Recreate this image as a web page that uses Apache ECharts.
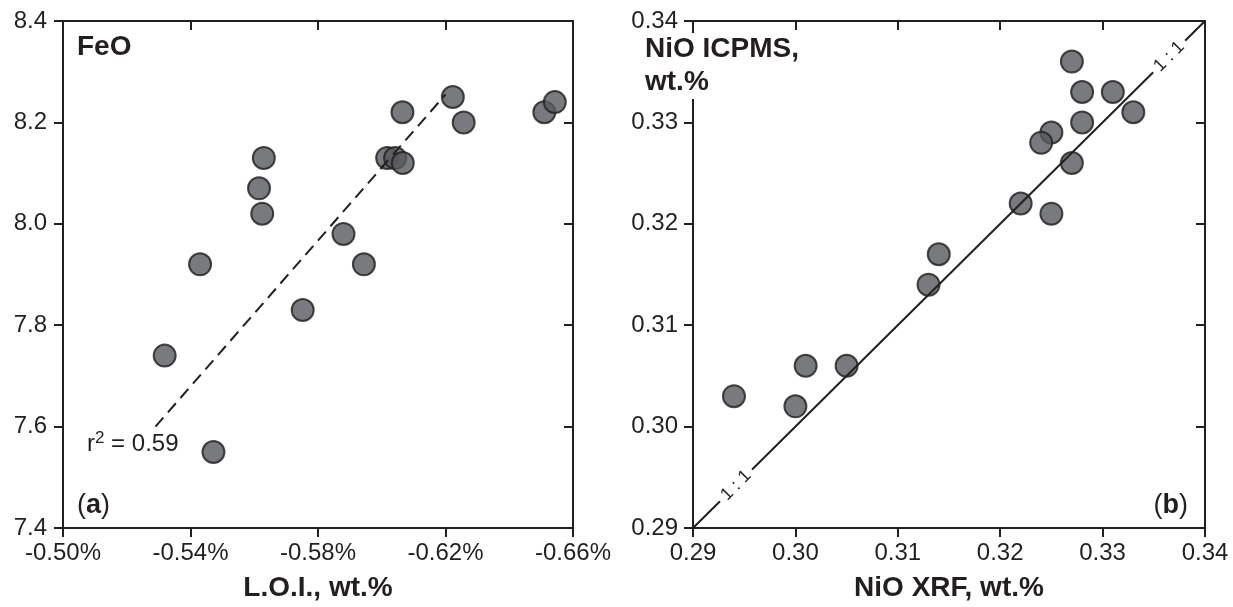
<!DOCTYPE html>
<html><head><meta charset="utf-8">
<script src="https://cdn.jsdelivr.net/npm/echarts@6/dist/echarts.min.js"></script>
<style>html,body{margin:0;padding:0;background:#fff}#c{width:1233px;height:607px}</style>
</head><body><div id="c"></div>
<script>
// ---- Panel (a): FeO vs L.O.I. ----
const loiValues = [-0.563, -0.5615, -0.5625, -0.543, -0.6223, -0.6065, -0.6257, -0.651, -0.6543, -0.6017, -0.6042, -0.6066, -0.588, -0.5944, -0.5752, -0.5319, -0.5472];
const feoValues = [8.13, 8.07, 8.02, 7.92, 8.25, 8.22, 8.20, 8.22, 8.24, 8.13, 8.13, 8.12, 7.98, 7.92, 7.83, 7.74, 7.55];
const loiTicks = [-0.50, -0.54, -0.58, -0.62, -0.66];
const feoTicks = [7.4, 7.6, 7.8, 8.0, 8.2, 8.4];
const fitLoi = [-0.529, -0.620];
const fitFeo = [7.60, 8.255];
// ---- Panel (b): NiO ICPMS vs NiO XRF ----
const nioXrf = [0.327, 0.328, 0.331, 0.333, 0.328, 0.325, 0.324, 0.327, 0.322, 0.325, 0.314, 0.313, 0.301, 0.305, 0.294, 0.300];
const nioIcpms = [0.336, 0.333, 0.333, 0.331, 0.330, 0.329, 0.328, 0.326, 0.322, 0.321, 0.317, 0.314, 0.306, 0.306, 0.303, 0.302];
const nioTicks = [0.29, 0.30, 0.31, 0.32, 0.33, 0.34];
const oneToOne = [0.29, 0.34];
const oneToOneLabelAt = [0.2942, 0.3365];

const INK = '#231f20';
const FONT = 'Liberation Sans';
const pts = (xs, ys) => xs.map((x, i) => [x, ys[i]]);

function mainAxis(extra) {
  return Object.assign({
    type: 'value',
    axisLine: { show: true, onZero: false, lineStyle: { color: INK, width: 2 } },
    axisTick: { show: true, inside: false, length: 9, lineStyle: { color: INK, width: 2 } },
    axisLabel: { show: true, color: INK, fontSize: 24, fontFamily: FONT },
    splitLine: { show: false },
    nameTextStyle: { color: INK, fontSize: 28, fontWeight: 'bold', fontFamily: FONT }
  }, extra);
}
function mirrorAxis(extra) {
  return Object.assign({
    type: 'value',
    axisLine: { show: true, onZero: false, lineStyle: { color: INK, width: 2 } },
    axisTick: { show: true, inside: true, length: 9, lineStyle: { color: INK, width: 2 } },
    axisLabel: { show: false },
    splitLine: { show: false }
  }, extra);
}

const chart = echarts.init(document.getElementById('c'), null, { renderer: 'canvas' });
const markerStyle = { color: '#58595c', borderColor: '#1e1e1e', borderWidth: 2 };

const option = {
  animation: false,
  backgroundColor: '#fff',
  grid: [
    { left: 63, top: 21, width: 510, height: 510, containLabel: false },
    { left: 693, top: 21, width: 512, height: 510, containLabel: false }
  ],
  xAxis: [
    mainAxis({ gridIndex: 0, position: 'bottom', min: -0.66, max: -0.50, inverse: true,
      name: 'L.O.I., wt.%', nameLocation: 'middle', nameGap: 46,
      axisTick: { show: true, inside: false, length: 9, customValues: loiTicks, lineStyle: { color: INK, width: 2 } },
      axisLabel: { show: true, customValues: loiTicks, margin: 13, color: INK, fontSize: 24, fontFamily: FONT, formatter: v => v.toFixed(2) + '%' } }),
    mirrorAxis({ gridIndex: 0, position: 'top', min: -0.66, max: -0.50, inverse: true,
      axisTick: { show: true, inside: true, length: 9, customValues: loiTicks, lineStyle: { color: INK, width: 2 } } }),
    mainAxis({ gridIndex: 1, position: 'bottom', min: 0.29, max: 0.34,
      name: 'NiO XRF, wt.%', nameLocation: 'middle', nameGap: 46,
      axisTick: { show: true, inside: false, length: 9, customValues: nioTicks, lineStyle: { color: INK, width: 2 } },
      axisLabel: { show: true, customValues: nioTicks, margin: 13, color: INK, fontSize: 24, fontFamily: FONT, formatter: v => v.toFixed(2) } }),
    mirrorAxis({ gridIndex: 1, position: 'top', min: 0.29, max: 0.34,
      axisTick: { show: true, inside: true, length: 9, customValues: nioTicks, lineStyle: { color: INK, width: 2 } } })
  ],
  yAxis: [
    mainAxis({ gridIndex: 0, position: 'left', min: 7.4, max: 8.4,
      axisTick: { show: true, inside: false, length: 9, customValues: feoTicks, lineStyle: { color: INK, width: 2 } },
      axisLabel: { show: true, customValues: feoTicks, margin: 16, color: INK, fontSize: 24, fontFamily: FONT, formatter: v => v.toFixed(1) } }),
    mirrorAxis({ gridIndex: 0, position: 'right', min: 7.4, max: 8.4,
      axisTick: { show: true, inside: true, length: 9, customValues: feoTicks, lineStyle: { color: INK, width: 2 } } }),
    mainAxis({ gridIndex: 1, position: 'left', min: 0.29, max: 0.34,
      axisTick: { show: true, inside: false, length: 9, customValues: nioTicks, lineStyle: { color: INK, width: 2 } },
      axisLabel: { show: true, customValues: nioTicks, margin: 15, color: INK, fontSize: 24, fontFamily: FONT, formatter: v => v.toFixed(2) } }),
    mirrorAxis({ gridIndex: 1, position: 'right', min: 0.29, max: 0.34,
      axisTick: { show: true, inside: true, length: 9, customValues: nioTicks, lineStyle: { color: INK, width: 2 } } })
  ],
  series: [
    { type: 'scatter', xAxisIndex: 0, yAxisIndex: 0, z: 2, symbol: 'circle', symbolSize: 22,
      itemStyle: markerStyle, data: pts(loiValues, feoValues), silent: true },
    { type: 'line', xAxisIndex: 0, yAxisIndex: 0, z: 3, symbol: 'none', silent: true,
      lineStyle: { color: INK, width: 2, type: [12, 7] }, data: pts(fitLoi, fitFeo) },
    { type: 'scatter', xAxisIndex: 2, yAxisIndex: 2, z: 2, symbol: 'circle', symbolSize: 22,
      itemStyle: markerStyle, data: pts(nioXrf, nioIcpms), silent: true },
    { type: 'line', xAxisIndex: 2, yAxisIndex: 2, z: 3, symbol: 'none', silent: true,
      lineStyle: { color: INK, width: 2 }, data: pts(oneToOne, oneToOne) },
    { type: 'scatter', xAxisIndex: 2, yAxisIndex: 2, z: 4, symbolSize: 1, silent: true,
      itemStyle: { color: 'rgba(0,0,0,0)' },
      data: pts(oneToOneLabelAt, oneToOneLabelAt),
      label: { show: true, position: 'inside', formatter: '1 : 1', rotate: 45, color: INK,
        fontSize: 18, fontFamily: FONT, backgroundColor: '#fff', padding: [0, 5],
        textBorderWidth: 0, textBorderColor: 'transparent', opacity: 1 } }
  ],
  graphic: [
    { type: 'text', x: 77, y: 47, z: 100, silent: true,
      style: { text: 'FeO', fill: INK, font: 'bold 28px "Liberation Sans"', align: 'left', verticalAlign: 'middle', textAlign: 'left', textVerticalAlign: 'middle' } },
    { type: 'text', x: 87, y: 444, z: 100, silent: true,
      style: { text: 'r{s|2} = 0.59', fill: INK, font: '24px "Liberation Sans"', lineHeight: 28,
        align: 'left', verticalAlign: 'middle', textAlign: 'left', textVerticalAlign: 'middle',
        rich: { s: { fontSize: 17, lineHeight: 17, verticalAlign: 'top', fill: INK, fontFamily: FONT } } } },
    { type: 'text', x: 77, y: 506, z: 100, silent: true,
      style: { text: '({b|a})', fill: INK, font: '27px "Liberation Sans"',
        align: 'left', verticalAlign: 'middle', textAlign: 'left', textVerticalAlign: 'middle',
        rich: { b: { fontWeight: 'bold', fontSize: 27, fontFamily: FONT, fill: INK } } } },
    { type: 'text', x: 1188, y: 506, z: 100, silent: true,
      style: { text: '({b|b})', fill: INK, font: '27px "Liberation Sans"',
        align: 'right', verticalAlign: 'middle', textAlign: 'right', textVerticalAlign: 'middle',
        rich: { b: { fontWeight: 'bold', fontSize: 27, fontFamily: FONT, fill: INK } } } },
    { type: 'text', x: 645, y: 33, z: 100, silent: true,
      style: { text: 'NiO ICPMS,\nwt.%', fill: INK, font: 'bold 28px "Liberation Sans"', lineHeight: 33,
        backgroundColor: '#fff', padding: [0, 4, 0, 0],
        align: 'left', verticalAlign: 'top', textAlign: 'left', textVerticalAlign: 'top' } }
  ]
};
chart.setOption(option);
</script>
</body></html>
